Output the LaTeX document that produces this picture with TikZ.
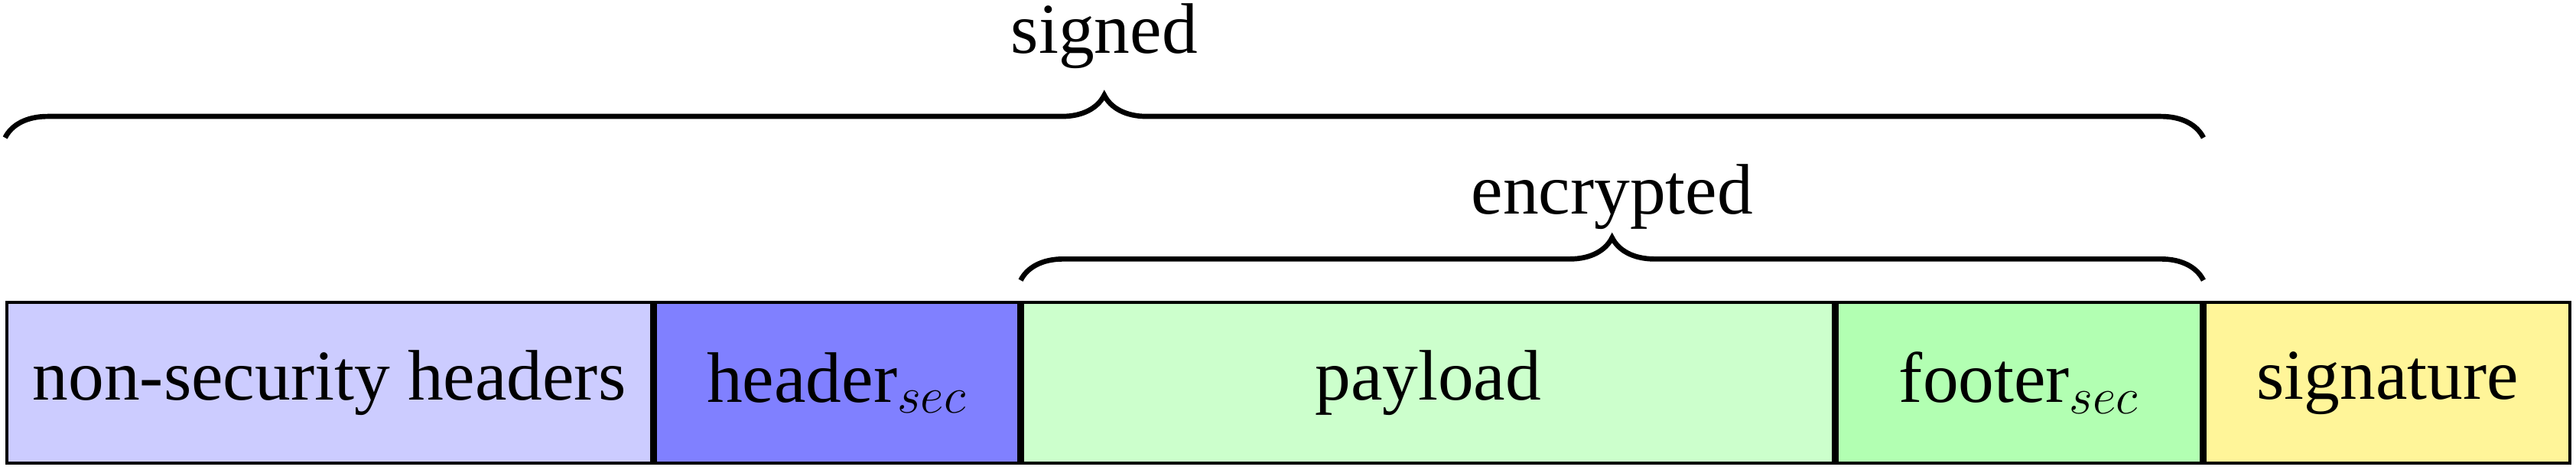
\documentclass[tikz,border=0pt]{standalone}
\usepackage{fontspec}
\setmainfont{Liberation Serif}
\usetikzlibrary{positioning,decorations.pathreplacing}
\definecolor{sigfill}{RGB}{255,245,153}
\begin{document}
\begin{tikzpicture}[font=\fontsize{16.8}{20}\selectfont, node distance=0pt,
		feld/.style={draw, thick, minimum height=37.8pt, inner sep=0pt},
		klammer/.style={decorate, decoration={brace, amplitude=10pt}, very thick}]
	% Felder der Nachricht
	\node[feld, fill=blue!20, minimum width=151.7pt] (nonsec) {non-security headers};
	\node[feld, fill=blue!50, minimum width=85.5pt, right=of nonsec] (hdrsec) {header$_{sec}$};
	\node[feld, fill=green!20, minimum width=190.8pt, right=of hdrsec] (payload) {payload};
	\node[feld, fill=green!30, minimum width=85.7pt, right=of payload] (ftrsec) {footer$_{sec}$};
	\node[feld, fill=sigfill, minimum width=85.8pt, right=of ftrsec] (sig) {signature};
	\useasboundingbox ([shift={(-1.2pt,-1.0pt)}]nonsec.south west) rectangle ([shift={(1pt,70.65pt)}]sig.north east);
	% Klammern
	\def\encab{4.8pt} \def\sigab{38.3pt}
	\draw[klammer] ([yshift=\encab]payload.north west) -- ([yshift=\encab]ftrsec.north east);
	\draw[klammer] ([yshift=\sigab]nonsec.north west) -- ([yshift=\sigab]ftrsec.north east);
	\path (payload.north west) -- (ftrsec.north east) coordinate[midway] (encmitte);
	\path (nonsec.north west) -- (ftrsec.north east) coordinate[midway] (sigmitte);
	\node[anchor=base, inner sep=0pt] (enclabel) at ([yshift=20.3pt]encmitte) {encrypted};
	\node[anchor=base, inner sep=0pt] (siglabel) at ([yshift=58.1pt]sigmitte) {signed};
\end{tikzpicture}
\end{document}
